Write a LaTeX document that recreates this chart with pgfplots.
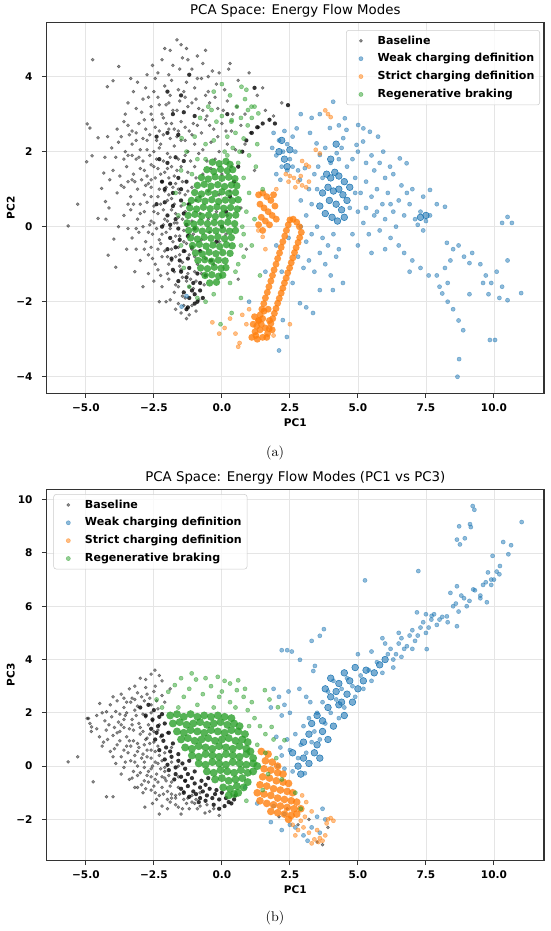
\documentclass[border=0pt]{standalone}
\usepackage{fontspec}
\usepackage{pgfplots}
\pgfplotsset{compat=1.18}
\newfontfamily\dejavu{DejaVu Sans}
\definecolor{tabblue}{HTML}{1F77B4}
\definecolor{taborange}{HTML}{FF7F0E}
\definecolor{tabgreen}{HTML}{2CA02C}
\pgfplotsset{
  pcastyle/.style={
    scale only axis, width=373pt, height=278pt,
    xmin=-6.44, xmax=11.84,
    xtick={-5,-2.5,0,2.5,5,7.5,10},
    xticklabels={−5.0,−2.5,0.0,2.5,5.0,7.5,10.0},
    tick align=outside, xtick pos=left, ytick pos=left,
    major tick length=3.5pt,
    every tick/.style={black!80, line width=0.8pt},
    axis line style={black!80, line width=0.8pt},
    grid=major, major grid style={black!10, line width=0.6pt},
    tick label style={font=\dejavu\bfseries\fontsize{7.9}{9}\selectfont, inner sep=0pt},
    xticklabel style={anchor=center, yshift=-7.5pt},
    yticklabel style={anchor=east, xshift=-6.9pt},
    label style={font=\dejavu\bfseries\fontsize{7.9}{9}\selectfont},
    title style={font=\dejavu\fontsize{10}{12}\selectfont, at={(axis description cs:0.5,1.0094)}, anchor=center},
    xlabel style={at={(axis description cs:0.5,-0.0782)}, anchor=center},
    ylabel style={at={(axis description cs:-0.0719,0.5)}, anchor=center},
    legend cell align=left,
    legend image code/.code={\path[draw=none,fill=none] (0pt,-1pt) rectangle (19.5pt,1pt); \draw[#1] plot[only marks] coordinates {(9pt,0pt)};},
    legend style={draw=black!20, fill=white, fill opacity=0.8, text opacity=1, rounded corners=2pt,
      font=\dejavu\bfseries\fontsize{8.3}{10}\selectfont, row sep=1.6pt, inner sep=2pt},
  },
  basepts/.style={only marks, mark=*, mark size=1.15pt, color=black, opacity=0.42},
  basecore/.style={only marks, mark=*, mark size=1.6pt, color=black, forget plot, mark options={draw opacity=0, fill opacity=0.8}},
  weakpts/.style={only marks, mark=*, mark size=1.55pt, color=tabblue, opacity=0.5},
  strictpts/.style={only marks, mark=*, mark size=1.55pt, color=taborange, opacity=0.5},
  regenpts/.style={only marks, mark=*, mark size=1.55pt, color=tabgreen, opacity=0.5},
  corepts/.style={only marks, mark=*, mark size=2.5pt, forget plot, mark options={draw opacity=0, fill opacity=0.8}},
}
\begin{document}
\begin{tikzpicture}
\path[use as bounding box] (0,0) rectangle (412.5pt,698.25pt);
% ================= (a) PC1 vs PC2 =================
\begin{axis}[pcastyle, at={(35pt,403.3pt)}, anchor=south west,
  ymin=-4.44, ymax=5.44, ytick={-4,-2,0,2,4}, yticklabels={−4,−2,0,2,4},
  title={PCA Space: Energy Flow Modes}, xlabel={PC1}, ylabel={PC2},
  legend style={at={(0.992,0.98)}, anchor=north east}]
\addplot[basepts] coordinates {
(-1.65,4.98) (-1.9,4.7) (-1.3,4.75) (-0.9,4.55)
(-2.55,4.3) (-2.2,4.45) (-1.8,4.3) (-1.45,4.5) (-1.1,4.2) (-0.7,4.35) (-0.35,4.15) (0.3,4.35) (0.25,4.2)
(-3.1,3.85) (-2.8,3.7) (-2.45,3.95) (-2.1,3.75) (-1.85,3.9) (-1.6,3.65) (-1.3,3.85) (-1.0,3.7) (-0.75,3.95) (-0.5,3.6) (-0.2,3.8) (0.1,3.65) (0.6,3.9) (1.3,3.5)
(-3.45,3.3) (-3.15,3.15) (-2.9,3.4) (-2.6,3.2) (-2.35,3.45) (-2.05,3.25) (-1.8,3.1) (-1.55,3.35) (-1.25,3.2) (-0.95,3.4) (-0.7,3.1) (-0.45,3.3) (-0.15,3.15) (0.2,3.35) (0.55,3.2) (0.85,3.0) (1.6,3.1) (1.9,2.95)
(-3.85,2.6) (-3.6,2.8) (-3.3,2.55) (-3.05,2.75) (-2.8,2.6) (-2.55,2.85) (-2.3,2.55) (-2.05,2.75) (-1.75,2.6) (-1.5,2.8) (-1.2,2.55) (-0.9,2.7) (-0.6,2.85) (-0.3,2.6) (0.0,2.75) (0.35,2.55) (0.7,2.7) (1.05,2.5) (1.35,2.65)
(-4.05,2.1) (-3.8,2.25) (-3.55,2.0) (-3.3,2.2) (-3.0,2.05) (-2.75,2.3) (-2.5,2.0) (-2.25,2.2) (-2.0,1.95) (-1.75,2.15) (-1.5,2.3) (-1.25,2.0) (-1.0,2.2) (-0.7,2.05) (-0.4,2.25) (-0.1,2.0) (0.2,2.2) (0.5,2.05) (0.85,2.2)
(-4.0,1.5) (-3.75,1.35) (-3.5,1.6) (-3.25,1.4) (-3.0,1.55) (-2.75,1.35) (-2.5,1.6) (-2.25,1.4) (-2.0,1.55) (-1.75,1.35) (-1.5,1.6) (-1.25,1.45) (-1.0,1.6) (-0.7,1.4) (-0.4,1.55) (0.0,1.4) (0.35,1.6)
(-3.85,0.9) (-3.6,1.05) (-3.35,0.8) (-3.1,1.0) (-2.85,0.85) (-2.6,1.05) (-2.35,0.8) (-2.1,0.95) (-1.85,0.75) (-1.6,1.0) (-1.35,0.85) (-1.1,1.05) (-0.8,0.8) (-0.5,0.95) (-0.1,0.85) (0.3,0.95)
(-3.6,0.3) (-3.35,0.45) (-3.1,0.2) (-2.85,0.4) (-2.6,0.15) (-2.35,0.35) (-2.1,0.2) (-1.85,0.45) (-1.6,0.25) (-1.35,0.4) (-1.1,0.15) (-0.8,0.35) (-0.5,0.2) (-0.2,0.4) (0.2,0.3)
(-3.3,-0.3) (-3.05,-0.15) (-2.8,-0.4) (-2.55,-0.2) (-2.3,-0.35) (-2.05,-0.15) (-1.8,-0.4) (-1.55,-0.25) (-1.3,-0.45) (-1.05,-0.2) (-0.75,-0.35) (-0.45,-0.15) (-0.1,-0.4) (0.15,-0.2)
(-3.0,-0.9) (-2.7,-0.75) (-2.45,-1.0) (-2.2,-0.8) (-1.95,-1.0) (-1.7,-0.8) (-1.45,-0.95) (-1.2,-0.75) (-0.9,-1.0) (-0.6,-0.85) (-0.3,-1.0)
(-2.5,-1.45) (-2.2,-1.6) (-1.95,-1.4) (-1.7,-1.55) (-1.45,-1.35) (-1.2,-1.6) (-0.95,-1.45) (-0.65,-1.55)
(-1.9,-1.95) (-1.6,-2.05) (-1.35,-1.9) (-1.1,-2.1) (-0.85,-1.95) (-1.5,-2.3) (-1.2,-2.35)
(-4.75,4.45) (-5.65,0.02) (-5.3,0.6) (-4.95,2.74) (-4.85,2.63) (-4.97,1.73) (-4.77,1.89) (-4.55,2.37) (-4.55,0.22) (-4.26,0.2) (-4.18,-0.76) (-3.97,-0.33) (-3.9,-1.08) (-4.21,3.73) (-4.0,3.89) (-4.42,1.02) (-4.34,1.43) (-4.12,1.25) (-4.28,0.67) (-3.79,4.27) (1.0,4.1) (1.5,3.7) (2.2,3.3) (-2.9,-1.6) (-2.3,-2.0) (0.6,-1.4) (0.9,-0.6) (0.7,0.5) (1.2,1.5)
(-2.9,2.35) (-2.65,2.45) (-2.4,2.3) (-2.15,2.45) (-1.9,2.35) (-1.65,2.4) (-1.35,2.3)
(-3.15,1.8) (-2.9,1.75) (-2.65,1.9) (-2.4,1.8) (-2.15,1.75) (-1.9,1.85) (-1.6,1.8) (-1.35,1.9)
(-3.2,1.2) (-2.95,1.25) (-2.7,1.15) (-2.45,1.3) (-2.2,1.2) (-1.95,1.3) (-1.7,1.15) (-1.45,1.2)
(-3.0,0.6) (-2.75,0.65) (-2.5,0.55) (-2.25,0.6) (-2.0,0.7) (-1.75,0.6) (-1.5,0.55)
(-2.9,0.0) (-2.65,0.05) (-2.4,-0.05) (-2.15,0.05) (-1.9,-0.05) (-1.65,0.1) (-1.4,-0.1)
(-2.6,-0.55) (-2.35,-0.6) (-2.1,-0.65) (-1.85,-0.6) (-1.6,-0.55) (-1.35,-0.65) (-1.1,-0.6)
(-2.0,-1.25) (-1.75,-1.2) (-1.5,-1.15) (-1.25,-1.25) (-1.0,-1.2)
(-3.4,2.45) (-3.15,2.5) (-2.75,2.05) (-2.3,2.1) (-1.95,2.6) (-1.6,2.55) (-1.1,2.45) (-2.6,3.0) (-2.2,3.0) (-1.9,3.5) (-1.4,3.6) (-2.5,3.6) (-1.1,3.3) (-0.6,3.5) (-3.6,1.8) (-3.3,1.9) (-2.85,1.5) (-2.35,1.55) (-1.85,1.6) (-3.45,1.2) (-2.6,1.25) (-2.05,1.05) (-1.55,0.9) (-3.25,0.6) (-2.6,0.8) (-2.15,0.45) (-1.7,0.35) (-3.15,-0.05) (-2.5,0.1) (-2.0,0.15) (-1.45,0.2) (-2.85,-0.6) (-2.25,-0.45) (-1.7,-0.25) (-1.4,-0.4) (-2.35,-1.15) (-1.85,-0.9) (-1.55,-0.75) (-1.6,-1.6) (-1.3,-1.45) (-1.05,-1.65) (-1.4,-2.1)
(-3.25,3.6) (-2.95,3.05) (-2.7,3.45) (-2.3,3.25) (-1.95,3.3) (-1.65,3.1) (-1.35,3.45) (-0.85,3.15) (-0.55,2.95) (-0.25,3.45) (0.05,3.1) (0.4,3.0) (-3.7,2.4) (-3.45,2.7) (-3.15,2.3) (-2.85,2.85) (-2.45,2.65) (-2.15,2.9) (-1.85,2.75) (-1.35,2.65) (-1.05,2.75) (-0.75,2.5) (-0.45,2.7) (-0.15,2.4) (0.15,2.55) (-3.9,1.85) (-3.45,1.9) (-3.05,1.85) (-2.6,1.65) (-2.1,1.45) (-1.65,1.5) (-1.15,1.75) (-0.85,1.95) (-0.55,1.75) (-0.25,1.8) (-3.7,1.1) (-3.3,1.25) (-2.8,1.1) (-2.3,1.0) (-1.8,1.05) (-1.25,0.95) (-0.95,1.3) (-3.45,0.6) (-3.0,0.35) (-2.5,0.4) (-1.95,0.85) (-1.25,0.6) (-0.95,0.7) (-3.45,-0.05) (-2.7,-0.15) (-2.2,-0.2) (-1.75,0.1) (-1.2,-0.2) (-3.15,-0.6) (-2.55,-0.85) (-2.0,-0.8) (-1.55,-1.05) (-1.0,-0.8) (-2.7,-1.25) (-2.25,-1.3) (-1.75,-1.75) (-1.45,-1.85) (-1.15,-1.4) (-0.75,-1.25) (-1.7,-2.2) (-1.3,-2.45) (-0.95,-2.25) (-2.05,-2.0) (-2.75,4.05) (-2.35,4.1) (-1.95,4.05) (-1.55,4.2) (-1.25,4.45) (-0.9,3.95) (-0.5,4.0) (-0.1,4.1) (-2.1,4.75) (-1.5,4.85) (-0.6,4.7) (-3.35,3.95) (-3.55,3.0) (-4.2,2.4) (-4.3,1.85) (-4.15,0.5) (-3.8,0.0) (-3.5,-0.6) (-3.2,-1.2)
};
\addlegendentry{Baseline}
\addplot[basecore] coordinates {
(-2.3,1.8) (-2.0,1.7) (-1.7,1.85) (-1.4,1.75) (-2.2,1.2) (-1.9,1.15) (-1.6,1.3) (-1.3,1.2) (-2.4,0.6) (-2.1,0.65) (-1.8,0.55) (-1.5,0.7) (-1.2,0.6)
(-2.2,0.0) (-1.9,0.05) (-1.6,-0.05) (-1.3,0.05) (-1.0,-0.05) (-2.0,-0.6) (-1.7,-0.55) (-1.4,-0.65) (-1.1,-0.55) (-0.8,-0.65) (-1.8,-1.15) (-1.5,-1.2) (-1.2,-1.1) (-0.9,-1.25) (-1.4,-1.75) (-1.1,-1.7) (-0.9,-2.0) (-1.25,-2.15)
(-1.0,-2.05) (-0.8,-1.7) (-0.6,-1.3) (-0.4,-0.9) (-0.2,-0.4) (0.0,0.0) (0.15,0.4) (0.3,0.8) (0.45,1.2) (0.6,1.6) (0.75,2.0) (0.9,2.3) (1.1,2.5) (1.3,2.65) (1.5,2.75) (1.75,2.85) (1.95,2.75)
(-2.4,2.4) (-2.0,2.5) (-1.6,2.45) (-1.8,3.0) (-1.4,3.05) (-1.0,2.95) (-2.0,3.6) (-1.5,3.5) (-1.2,4.05) (2.43,3.24) (1.2,3.7) (0.2,3.0)
(-2.0,0.3) (-1.7,0.2) (-1.4,0.35) (-1.9,-0.3) (-1.55,-0.35) (-1.25,-0.25) (-1.85,-0.85) (-1.55,-0.9) (-1.25,-0.85) (-1.6,-1.45) (-1.3,-1.35) (-1.05,-1.5) (-1.2,-1.9) (-1.5,1.0) (-1.8,0.9) (-2.1,1.0) (-0.8,-1.5) (-0.7,-1.9) (-1.0,-1.8) (-1.3,-2.2)
};
\addplot[weakpts] coordinates {
(1.85,2.1) (2.0,1.9) (2.1,2.3) (2.25,2.0) (2.4,2.2) (2.5,1.8) (2.6,2.4) (2.7,2.0) (2.2,1.6) (2.4,1.5) (2.0,1.4) (2.15,1.25) (2.6,1.6) (2.8,1.5) (1.9,2.5) (2.3,2.55)
(2.75,2.62) (3.24,2.5) (3.48,2.22) (3.97,2.63) (4.09,3.33) (4.52,2.89) (4.58,2.58) (5.01,2.71) (5.2,2.62) (5.44,2.53) (5.74,2.4) (5.19,2.27) (5.93,2.0) (6.54,1.82) (6.79,1.69) (6.18,1.6) (4.95,2.18) (4.46,2.36) (4.22,1.96) (3.6,1.91) (3.54,1.6) (3.05,1.56) (2.87,1.25)
(4.9,1.3) (5.1,0.9) (5.3,1.2) (5.5,0.8) (5.7,1.0) (5.9,0.6) (6.1,0.9) (6.3,0.4) (6.5,0.7) (6.7,0.3) (6.9,0.6) (7.1,0.2) (7.3,0.4) (7.5,0.15) (7.65,0.3) (7.4,-0.1) (7.2,0.05) (5.0,0.4) (5.2,0.1) (5.4,-0.2) (5.6,0.3) (5.8,-0.1) (6.0,0.2) (6.2,-0.3) (6.4,0.0) (4.8,-0.2) (5.0,-0.5) (5.5,-0.7) (6.0,-0.6) (6.5,-0.5) (6.0,1.3) (6.6,1.1) (7.0,1.0) (7.4,0.8) (7.65,0.98) (5.6,1.5) (5.3,1.7) (4.8,1.8) (5.0,2.0) (8.2,0.53) (7.9,0.6)
(2.8,-0.8) (3.0,-1.1) (3.2,-0.9) (3.4,-1.2) (3.6,-0.7) (3.8,-1.0) (4.0,-1.3) (4.2,-0.8) (4.45,-1.5) (3.1,-0.4) (3.3,-0.2) (3.5,0.0) (3.7,-0.3) (3.9,-0.5) (4.1,-0.2) (4.3,-0.6) (2.9,0.0) (3.1,0.3) (3.3,0.6) (3.5,1.0) (3.2,1.0) (2.9,0.7)
(2.24,-2.49) (2.39,-2.94) (2.87,-2.04) (3.1,-2.15) (3.35,-2.3) (3.6,-1.69) (4.08,-1.69) (2.6,-1.5) (2.2,-1.2) (2.0,-0.5) (2.45,-0.3) (2.1,-3.3) (1.0,-2.0) (-1.48,-2.13) (-1.3,-1.85) (1.6,-1.2)
(8.27,-0.43) (8.5,-0.6) (8.7,-0.5) (8.9,-0.8) (9.1,-0.97) (8.4,-0.9) (9.2,-0.7) (9.5,-1.0) (9.7,-1.3) (9.9,-1.5) (10.1,-1.2) (10.3,-1.6) (10.5,-1.96) (9.8,-1.8) (10.2,-1.9) (9.6,-1.5) (11.0,-1.77) (10.5,0.26) (10.3,0.1) (10.66,0.1) (10.5,-0.9) (8.1,-1.78) (8.3,-2.0) (8.5,-2.2) (8.7,-2.5) (8.87,-2.76) (8.3,-1.5) (9.85,-3.02) (10.04,-3.02) (8.72,-3.53) (8.66,-4.0) (9.1,-1.8)
(7.9,-1.3) (8.0,-1.6) (8.2,-1.1) (6.7,-0.7) (7.0,-0.9) (7.3,-1.1) (7.6,-1.3) (6.9,-1.2)
(4.7,0.5) (4.9,0.9) (4.6,1.6) (4.3,1.8) (4.0,1.7) (3.7,1.3) (3.4,1.4) (3.8,2.1) (4.4,2.1) (5.3,0.5) (5.7,0.4) (6.2,0.6) (6.8,0.9) (5.5,1.9) (6.3,1.4) (3.6,3.0) (3.3,2.9) (2.9,3.0) (4.3,2.7) (5.8,1.7)
};
\addlegendentry{Weak charging definition}
\addplot[corepts, color=tabblue, mark options={fill opacity=0.6}] coordinates {
(3.85,1.4) (4.0,1.3) (4.15,1.45) (4.3,1.35) (4.5,1.2) (3.9,1.05) (4.1,0.95) (4.3,1.0) (4.45,0.85) (4.6,0.7) (3.95,0.7) (4.2,0.6) (4.4,0.45) (3.8,0.35) (4.05,0.25) (4.25,0.15) (4.5,0.25) (3.7,0.9) (3.6,0.55) (4.7,1.05) (4.0,1.8) (4.2,2.2) (2.1,2.0) (2.3,1.8) (2.5,2.05) (2.2,2.3) (2.4,1.6) (7.3,0.25) (7.5,0.3)
};
\addplot[strictpts] coordinates {
(2.35,1.4) (2.5,1.35) (2.65,1.3) (2.8,1.2) (2.95,1.1) (3.1,1.05) (2.45,1.2) (2.7,1.05) (2.9,1.35) (3.2,1.2) (2.95,1.75) (3.1,1.65) (3.2,1.6) (3.45,2.05) (3.6,1.95) (3.8,3.1) (3.9,3.0) (4.0,2.92)
(-0.35,-2.55) (0.1,-2.7) (0.5,-2.85) (0.6,-3.2) (0.65,-3.1) (0.9,-2.6) (0.3,-2.45) (-0.1,-2.85) (0.75,-2.35) (1.0,-2.2) (1.5,-0.27) (1.34,-0.1) (1.6,-0.6) (2.0,1.0) (1.9,-2.9) (2.5,-2.6)
};
\addlegendentry{Strict charging definition}
\addplot[corepts, color=taborange, mark size=2.6pt] coordinates {
(1.22,-2.80) (1.28,-2.65) (1.35,-2.50) (1.41,-2.35) (1.47,-2.20) (1.54,-2.05) (1.60,-1.90) (1.67,-1.75) (1.73,-1.60) (1.80,-1.45) (1.86,-1.30) (1.92,-1.15) (1.99,-1.00) (2.05,-0.85) (2.12,-0.70) (2.18,-0.55) (2.24,-0.40) (2.31,-0.25) (2.37,-0.10) (2.44,0.05) (2.50,0.18)
(1.68,-2.85) (1.74,-2.72) (1.80,-2.58) (1.87,-2.45) (1.93,-2.31) (1.99,-2.18) (2.05,-2.04) (2.11,-1.91) (2.18,-1.77) (2.24,-1.64) (2.30,-1.50) (2.36,-1.37) (2.42,-1.23) (2.49,-1.10) (2.55,-0.96) (2.61,-0.83) (2.67,-0.69) (2.73,-0.56) (2.80,-0.42) (2.86,-0.29) (2.92,-0.15) (2.85,0.0) (2.75,0.12) (2.62,0.2)
(1.15,-2.6) (1.25,-2.9) (1.4,-2.75) (1.5,-2.95) (1.6,-2.7) (1.35,-2.5) (1.5,-2.45) (1.75,-2.5) (1.85,-2.75) (1.3,-3.0) (1.1,-2.95) (1.55,-2.25) (1.7,-2.2) (1.45,-2.6) (1.2,-2.4) (1.65,-2.95)
(1.35,0.85) (1.5,0.9) (1.65,0.8) (1.8,0.7) (1.95,0.55) (1.4,0.6) (1.55,0.5) (1.7,0.4) (1.85,0.3) (1.45,0.25) (1.6,0.15) (1.75,0.05) (2.0,0.2) (1.5,-0.1) (1.35,0.05) (1.9,0.85)
};
\addplot[regenpts] coordinates {
(0.1,2.0) (0.4,2.1) (0.65,2.0) (0.2,2.4) (0.5,2.5) (0.8,2.35) (0.35,2.8) (0.7,2.9) (0.95,2.7) (0.55,3.2) (0.85,3.4) (0.3,3.5) (0.9,3.65) (1.2,3.2) (1.1,2.9) (1.3,2.2) (1.0,1.9) (1.25,1.6)
(-0.3,3.6) (0.0,3.8) (-0.5,3.2) (-0.8,2.9) (-0.2,2.8) (-1.0,2.4) (-0.6,2.2) (-0.3,2.3) (-1.3,2.0) (-0.9,1.8) (-1.5,1.5) (-1.7,0.9) (-1.6,0.3) (-1.5,-0.5) (-1.4,-1.1) (-1.2,-1.6) (-0.9,-1.9) (-0.6,-2.0) (-0.3,-1.8) (0.3,-1.5) (0.5,-1.2) (0.8,-0.8) (0.8,-0.2) (0.9,0.4) (0.8,1.3) (1.0,0.9) (1.2,0.2) (1.1,-0.5) (0.7,-1.9) (0.36,-2.3) (1.5,1.0) (-0.05,-2.6) (1.4,-1.3)
(0.72,3.73) (0.96,3.11) (1.09,3.2) (1.34,3.02) (-0.38,3.11) (0.0,2.95) (0.36,2.84) (-1.48,2.36) (0.6,1.7) (0.2,1.9) (-0.6,1.8) (-1.1,1.4) (-1.4,0.6) (0.75,0.0) (0.7,-0.5) (0.6,-1.0)
};
\addlegendentry{Regenerative braking}
\addplot[corepts, color=tabgreen, mark size=2.8pt] coordinates {
(-0.35,1.72) (-0.1,1.68) (0.15,1.74) (0.3,1.66)
(-0.55,1.52) (-0.3,1.47) (-0.05,1.53) (0.2,1.49) (0.4,1.52)
(-0.75,1.31) (-0.5,1.27) (-0.25,1.33) (0.0,1.29) (0.25,1.32) (0.48,1.28)
(-0.9,1.1) (-0.65,1.13) (-0.4,1.08) (-0.15,1.12) (0.1,1.07) (0.35,1.11) (0.55,1.09)
(-1.0,0.91) (-0.75,0.87) (-0.5,0.92) (-0.25,0.88) (0.0,0.93) (0.25,0.89) (0.5,0.91)
(-1.12,0.7) (-0.87,0.73) (-0.62,0.68) (-0.37,0.72) (-0.12,0.67) (0.13,0.71) (0.38,0.69) (0.6,0.72)
(-1.18,0.5) (-0.93,0.47) (-0.68,0.52) (-0.43,0.48) (-0.18,0.53) (0.07,0.49) (0.32,0.51) (0.57,0.47)
(-1.24,0.3) (-0.99,0.33) (-0.74,0.28) (-0.49,0.31) (-0.24,0.27) (0.01,0.32) (0.26,0.29) (0.51,0.31)
(-1.28,0.1) (-1.03,0.07) (-0.78,0.12) (-0.53,0.08) (-0.28,0.11) (-0.03,0.09) (0.22,0.12) (0.47,0.08)
(-1.22,-0.1) (-0.97,-0.07) (-0.72,-0.12) (-0.47,-0.09) (-0.22,-0.11) (0.03,-0.08) (0.28,-0.12) (0.5,-0.1)
(-1.15,-0.3) (-0.9,-0.33) (-0.65,-0.28) (-0.4,-0.31) (-0.15,-0.27) (0.1,-0.32) (0.35,-0.29)
(-1.08,-0.5) (-0.83,-0.47) (-0.58,-0.52) (-0.33,-0.49) (-0.08,-0.53) (0.17,-0.48) (0.38,-0.51)
(-0.97,-0.7) (-0.72,-0.73) (-0.47,-0.68) (-0.22,-0.72) (0.03,-0.69) (0.3,-0.71)
(-0.88,-0.9) (-0.63,-0.88) (-0.38,-0.92) (-0.13,-0.89) (0.12,-0.91)
(-0.78,-1.1) (-0.53,-1.12) (-0.28,-1.08) (-0.03,-1.11) (0.15,-1.09)
(-0.62,-1.3) (-0.37,-1.28) (-0.12,-1.32) (0.03,-1.29)
(-0.45,-1.5) (-0.2,-1.48)
};
\end{axis}
% ================= (b) PC1 vs PC3 =================
\begin{axis}[pcastyle, at={(35pt,53pt)}, anchor=south west,
  ymin=-3.536, ymax=10.375, ytick={-2,0,2,4,6,8,10}, yticklabels={−2,0,2,4,6,8,10},
  title={PCA Space: Energy Flow Modes (PC1 vs PC3)}, xlabel={PC1}, ylabel={PC3},
  legend style={at={(0.0135,0.988)}, anchor=north west}]
\addplot[basepts] coordinates {
(-3.0,3.3) (-2.6,3.45) (-2.46,3.6) (-2.2,3.2)
(-3.7,2.7) (-3.4,2.9) (-3.1,2.75) (-2.8,2.95) (-2.5,2.8) (-2.2,2.65) (-1.9,2.9)
(-4.1,2.3) (-3.85,2.45) (-3.6,2.2) (-3.35,2.4) (-3.1,2.25) (-2.85,2.45) (-2.6,2.3) (-2.35,2.15) (-2.1,2.4)
(-4.9,1.79) (-4.6,1.9) (-4.3,1.7) (-4.05,1.85) (-3.8,1.65) (-3.55,1.9) (-3.3,1.75) (-3.05,1.6) (-2.8,1.85) (-2.55,1.7) (-2.3,1.55)
(-4.8,1.3) (-4.5,1.1) (-4.25,1.35) (-4.0,1.15) (-3.75,1.3) (-3.5,1.1) (-3.25,1.35) (-3.0,1.2) (-2.75,1.05) (-2.5,1.3) (-2.25,1.1) (-2.0,1.25)
(-4.4,0.75) (-4.1,0.55) (-3.85,0.8) (-3.6,0.6) (-3.35,0.75) (-3.1,0.55) (-2.85,0.8) (-2.6,0.6) (-2.35,0.75) (-2.1,0.5) (-1.85,0.7)
(-3.9,0.1) (-3.6,-0.05) (-3.35,0.2) (-3.1,0.0) (-2.85,0.15) (-2.6,-0.1) (-2.35,0.1) (-2.1,-0.05) (-1.85,0.15) (-1.6,0.0)
(-3.4,-0.5) (-3.1,-0.35) (-2.85,-0.55) (-2.6,-0.4) (-2.35,-0.6) (-2.1,-0.45) (-1.85,-0.6) (-1.6,-0.4) (-1.35,-0.55)
(-2.9,-1.0) (-2.6,-0.9) (-2.3,-1.1) (-2.0,-0.95) (-1.7,-1.1) (-1.4,-0.95) (-1.1,-1.1) (-0.8,-1.0)
(-2.83,-1.54) (-2.2,-1.5) (-1.9,-1.35) (-1.6,-1.54) (-1.3,-1.4) (-0.9,-1.6) (-0.62,-1.76) (-0.3,-1.6)
(-5.65,0.16) (-5.3,0.35) (-4.95,1.79) (-4.85,1.6) (-4.73,-0.59) (-4.24,-1.15) (-4.0,-1.15) (-4.49,2.35) (-4.24,2.04) (-4.79,1.47) (-3.2,-0.8)
(-3.5,2.0) (-3.2,2.1) (-2.9,1.95) (-3.3,1.55) (-3.0,1.45) (-2.7,1.55) (-3.6,1.45) (-3.4,0.95) (-3.1,0.85) (-2.8,1.0) (-2.5,0.9) (-3.2,0.4) (-2.9,0.45) (-2.6,0.3) (-2.3,0.4) (-3.0,-0.25) (-2.7,-0.2) (-2.4,-0.3) (-2.1,-0.2) (-2.5,-0.75) (-2.2,-0.8) (-1.9,-0.75) (-1.6,-0.8) (-2.0,-1.25) (-1.7,-1.2) (-1.4,-1.25) (-1.1,-1.35)
(2.8,-2.2) (3.2,-2.0) (3.5,-2.85) (2.4,-1.6) (3.7,-2.95) (2.1,-1.9) (3.9,-2.3)
(-3.3,2.55) (-2.95,2.6) (-2.65,2.55) (-2.4,2.45) (-3.9,2.05) (-3.75,1.95) (-2.6,2.0) (-3.95,1.45) (-3.7,1.55) (-3.4,1.4) (-2.9,1.3) (-4.2,1.0) (-3.75,0.95) (-3.25,0.95) (-2.65,0.85) (-3.7,0.35) (-3.45,0.5) (-2.75,0.35) (-2.45,0.15) (-3.25,-0.2) (-2.85,-0.05) (-2.25,-0.1) (-2.95,-0.7) (-2.7,-0.6) (-2.05,-0.55) (-2.4,-1.25) (-1.85,-1.05) (-1.45,-1.6) (-1.0,-1.4) (-0.55,-1.45)
(-3.5,2.4) (-3.2,2.5) (-2.75,2.7) (-2.45,3.0) (-2.8,3.25) (-2.3,3.4) (-3.2,3.0) (-4.0,2.6) (-3.6,2.55) (-4.4,2.0) (-4.15,1.55) (-3.85,1.25) (-3.6,1.75) (-3.15,1.9) (-2.65,1.2) (-2.35,1.35) (-4.6,1.4) (-4.35,0.9) (-3.95,0.65) (-3.5,0.75) (-3.05,0.7) (-2.75,0.6) (-2.45,0.55) (-4.0,0.35) (-3.55,0.15) (-3.2,0.15) (-2.95,0.3) (-2.55,0.0) (-2.2,0.2) (-3.7,-0.3) (-3.3,-0.45) (-2.75,-0.35) (-2.45,-0.5) (-2.2,-0.4) (-1.95,-0.35) (-3.1,-0.8) (-2.8,-0.85) (-2.45,-1.0) (-2.15,-1.05) (-1.85,-1.2) (-1.55,-1.05) (-1.25,-1.2) (-0.95,-1.25) (-2.55,-1.4) (-2.0,-1.6) (-1.7,-1.45) (-1.2,-1.6) (-0.8,-1.5) (-0.45,-1.7) (-1.5,-1.8) (-2.3,-1.8) (-0.1,-1.85)
};
\addlegendentry{Baseline}
\addplot[basecore] coordinates {
(-2.8,1.9) (-2.55,1.75) (-2.3,1.85) (-2.6,1.4) (-2.35,1.5) (-2.1,1.6) (-2.45,1.0) (-2.2,1.15) (-1.95,1.25) (-2.3,0.6) (-2.05,0.7) (-1.8,0.85) (-2.1,0.25) (-1.85,0.35) (-1.6,0.45) (-1.95,-0.15) (-1.7,-0.05) (-1.45,0.1) (-1.2,0.2) (-1.75,-0.5) (-1.5,-0.4) (-1.25,-0.3) (-1.0,-0.2) (-1.5,-0.85) (-1.25,-0.75) (-1.0,-0.65) (-0.75,-0.55) (-0.5,-0.45) (-1.2,-1.15) (-0.95,-1.05) (-0.7,-0.95) (-0.45,-0.85) (-0.2,-0.9) (-0.85,-1.35) (-0.6,-1.3) (-0.35,-1.2) (-0.1,-1.25) (0.15,-1.2) (0.35,-1.4) (0.1,-1.5) (-0.3,-1.45) (0.5,-1.1) (-3.0,2.2) (-2.7,2.3)
(-2.5,2.1) (-2.2,1.95) (-2.4,1.25) (-2.15,0.95) (-1.9,0.55) (-2.0,0.05) (-1.6,0.2) (-1.7,-0.3) (-1.35,-0.1) (-1.35,-0.55) (-1.1,-0.45) (-1.05,-0.95) (-0.8,-0.8) (-0.6,-0.7) (-0.55,-1.1) (-0.25,-1.05) (0.0,-1.0) (0.25,-1.35) (-0.1,-1.6) (0.45,-1.25) (-0.8,-1.2) (-1.4,-1.0)
};
\addplot[weakpts] coordinates {
(2.06,0.0) (2.3,-0.1) (2.6,-0.2) (3.05,-0.27) (2.2,0.4) (2.5,0.6) (2.8,0.3) (2.4,1.0) (2.7,1.2) (2.9,0.8) (3.1,0.5) (3.3,0.9) (3.0,1.5) (3.2,1.8) (3.4,1.3) (3.6,1.0) (3.5,2.0) (3.7,2.4) (3.8,1.6) (4.0,2.0) (3.9,2.8) (4.1,3.2) (4.2,2.5) (4.4,2.9) (4.5,2.2) (4.3,1.8) (4.6,3.3) (4.8,3.0) (4.9,2.6) (5.1,3.4) (5.2,2.9) (5.4,3.6) (5.5,3.2) (5.7,3.9) (5.9,3.5) (6.1,4.2) (6.3,4.0) (6.5,4.6) (6.7,4.4) (6.9,4.9) (7.1,4.7) (7.3,5.2) (7.5,5.0) (7.7,5.5) (7.9,5.3) (8.1,5.6) (8.3,5.4) (8.5,6.0) (8.7,5.8) (8.9,6.3) (9.1,6.2) (9.3,6.6) (9.5,6.4) (9.7,6.9) (9.9,7.0) (10.1,7.3) (10.22,7.51) (9.95,7.89) (10.53,7.95) (10.34,8.41) (10.63,8.29) (11.02,9.16) (9.22,9.76) (9.28,9.62) (8.72,9.0) (9.12,9.08) (9.15,8.97) (8.64,8.5) (8.75,8.32) (8.93,8.55) (7.22,7.32) (5.26,6.97) (2.2,4.35) (2.4,4.35) (2.57,4.3) (2.87,3.99) (3.3,4.7) (3.6,4.89) (3.75,5.14) (3.42,3.76) (3.36,3.57)
(6.2,4.4) (6.4,4.2) (6.6,4.8) (6.8,4.5) (7.0,5.1) (7.2,4.9) (7.4,5.4) (7.0,4.4) (6.6,4.1) (7.6,5.2) (7.8,5.7) (8.0,5.5) (8.27,5.62) (8.64,5.25) (7.5,5.7) (6.0,4.6) (6.3,3.7) (5.5,4.3) (5.9,4.8) (6.5,5.0) (5.0,4.2) (7.17,5.77) (7.71,5.64) (7.53,4.39)
(8.64,6.75) (8.8,6.4) (9.0,6.0) (9.24,6.63) (9.5,6.3) (9.74,6.15) (9.78,7.27) (10.0,7.0) (9.9,6.8) (10.2,7.2) (9.6,6.8) (8.4,6.5) (8.6,6.1)
(2.3,-1.8) (2.5,-2.2) (2.7,-2.3) (3.0,-2.6) (3.3,-2.3) (3.6,-2.5) (3.8,-2.0) (3.5,-1.9) (1.8,-2.1) (2.2,-2.4) (3.15,-2.8) (3.7,-1.6) (1.9,-1.5) (1.3,-1.4) (0.85,-0.8)
(1.9,2.9) (2.1,2.6) (2.3,2.3) (2.5,2.0) (2.2,1.9) (2.45,2.8) (1.8,2.2) (2.85,2.9) (3.1,2.6) (3.25,2.4) (2.0,1.1) (2.15,0.7)
};
\addlegendentry{Weak charging definition}
\addplot[corepts, color=tabblue, mark options={fill opacity=0.6}] coordinates {
(2.8,0.0) (3.0,0.3) (3.2,0.1) (3.4,0.5) (3.6,0.3) (3.0,0.9) (3.2,1.2) (3.5,0.8) (3.7,1.3) (3.9,1.0) (3.3,1.6) (3.5,1.9) (3.7,1.7) (3.9,2.2) (4.1,1.5) (4.3,2.3) (4.0,2.6) (4.2,2.8) (4.4,2.4) (4.6,2.7) (4.5,1.9) (4.8,2.4) (3.8,2.9) (4.0,3.3) (4.3,3.1) (4.5,3.5) (4.7,3.2) (5.0,2.9) (5.2,3.2) (4.9,3.7) (5.3,3.6) (5.6,3.5) (5.8,3.8) (6.0,4.0) (2.6,0.5) (2.9,-0.3)
};
\addplot[strictpts] coordinates {
(2.6,-2.2) (2.8,-2.4) (3.0,-2.3) (3.2,-2.5) (3.4,-2.75) (3.6,-2.7) (3.8,-2.6) (3.5,-2.4) (3.9,-2.0) (4.1,-2.05) (3.85,-2.15) (4.0,-1.95) (3.05,-1.9) (3.3,-1.7) (3.1,-1.35) (2.95,-1.1) (2.7,-2.6) (3.7,-2.8) (2.9,-2.05) (3.3,-2.9) (3.55,-2.85)
};
\addlegendentry{Strict charging definition}
\addplot[corepts, color=taborange, mark size=2.9pt] coordinates {
(1.45,0.55) (1.7,0.45) (1.6,0.2) (1.85,0.15) (2.05,0.0) (1.55,-0.1) (1.8,-0.15) (2.05,-0.25) (2.25,-0.3) (1.5,-0.4) (1.75,-0.45) (2.0,-0.55) (2.25,-0.6) (2.45,-0.65) (1.4,-0.7) (1.65,-0.75) (1.9,-0.85) (2.15,-0.9) (2.4,-0.95) (2.6,-1.0) (1.3,-1.0) (1.55,-1.05) (1.8,-1.1) (2.05,-1.2) (2.3,-1.25) (2.55,-1.3) (2.75,-1.35) (1.4,-1.3) (1.65,-1.4) (1.9,-1.45) (2.15,-1.5) (2.4,-1.55) (2.65,-1.6) (2.9,-1.6) (1.8,-1.7) (2.05,-1.75) (2.3,-1.8) (2.55,-1.85) (2.75,-1.8) (2.45,-2.0)
};
\addplot[regenpts] coordinates {
(-1.97,2.79) (-1.73,3.04) (-1.11,3.48) (-0.95,3.25) (-1.4,2.6) (-1.2,2.9) (-0.7,2.7) (-0.4,3.0) (-0.1,2.6) (0.3,2.4) (0.3,3.1) (0.55,2.85) (0.8,2.6) (0.5,2.2) (0.95,2.1) (1.2,1.8) (1.58,2.85) (1.75,2.5) (2.06,2.21) (1.4,1.5) (1.6,1.2) (1.9,1.0) (1.3,0.8) (1.6,0.5) (2.0,0.3) (-2.2,2.2) (-2.4,2.5) (-1.6,2.2) (-0.9,2.3) (-0.3,2.2) (0.0,2.8) (1.0,1.5) (1.7,-0.3) (2.2,-0.5) (2.7,-1.0) (2.9,-1.6) (1.5,-0.9) (0.9,-1.3)
(-0.15,3.35) (0.6,3.22) (0.85,2.9) (1.83,1.47) (2.3,0.97) (-1.5,3.3) (-0.6,3.3) (0.1,3.2) (1.1,2.4)
};
\addlegendentry{Regenerative braking}
\addplot[corepts, color=tabgreen, mark size=3pt] coordinates {
(-1.9,1.9) (-1.65,1.95) (-1.4,1.85) (-1.15,1.95) (-0.9,1.85) (-0.65,1.9) (-0.4,1.85) (-0.15,1.9) (0.1,1.85) (0.35,1.8)
(-1.8,1.6) (-1.55,1.65) (-1.3,1.55) (-1.05,1.6) (-0.8,1.65) (-0.55,1.55) (-0.3,1.6) (-0.05,1.65) (0.2,1.55) (0.45,1.6) (0.65,1.5)
(-1.65,1.3) (-1.4,1.25) (-1.15,1.35) (-0.9,1.3) (-0.65,1.25) (-0.4,1.35) (-0.15,1.3) (0.1,1.25) (0.35,1.35) (0.6,1.3) (0.85,1.2)
(-1.5,1.0) (-1.25,1.05) (-1.0,0.95) (-0.75,1.0) (-0.5,1.05) (-0.25,0.95) (0.0,1.0) (0.25,1.05) (0.5,0.95) (0.75,1.0) (0.95,0.9)
(-1.35,0.7) (-1.1,0.65) (-0.85,0.75) (-0.6,0.7) (-0.35,0.65) (-0.1,0.75) (0.15,0.7) (0.4,0.65) (0.65,0.75) (0.9,0.65) (1.05,0.55)
(-1.1,0.4) (-0.85,0.35) (-0.6,0.45) (-0.35,0.4) (-0.1,0.35) (0.15,0.45) (0.4,0.4) (0.65,0.35) (0.9,0.45) (1.15,0.3)
(-0.85,0.1) (-0.6,0.05) (-0.35,0.15) (-0.1,0.1) (0.15,0.05) (0.4,0.15) (0.65,0.1) (0.9,0.05) (1.15,0.1) (1.3,0.0)
(-0.55,-0.2) (-0.3,-0.25) (-0.05,-0.15) (0.2,-0.2) (0.45,-0.25) (0.7,-0.15) (0.95,-0.25) (1.15,-0.2)
(-0.25,-0.5) (0.0,-0.45) (0.25,-0.55) (0.5,-0.5) (0.75,-0.45) (0.95,-0.6)
(0.05,-0.8) (0.3,-0.85) (0.55,-0.75) (0.8,-0.8)
(0.25,-1.1) (0.45,-1.05) (0.6,-1.0)
};
\end{axis}
\node[font=\fontsize{10.5}{12}\selectfont] at (206.25pt,358.5pt) {(a)};
\node[font=\fontsize{10.5}{12}\selectfont] at (206.25pt,9.5pt) {(b)};
\end{tikzpicture}
\end{document}
